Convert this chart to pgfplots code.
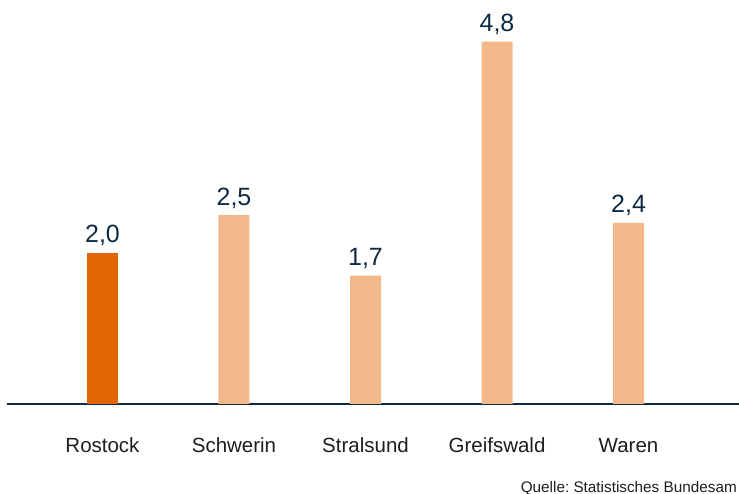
\documentclass[border=0pt]{standalone}
\usepackage{pgfplots}
\pgfplotsset{compat=1.18}
\usepackage{fontspec}
\setmainfont{Liberation Sans}
\frenchspacing
\definecolor{navy}{RGB}{15,42,68}
\definecolor{darkorange}{RGB}{227,101,6}
\definecolor{lightorange}{RGB}{243,184,137}
\definecolor{labelgray}{RGB}{30,30,30}
\begin{document}
\begin{tikzpicture}
\useasboundingbox (0,0) rectangle (739bp,494bp);
\begin{axis}[
    at={(7bp,90bp)}, anchor=south west,
    scale only axis,
    width=732bp, height=404bp,
    xmin=-0.726, xmax=4.840,
    ymin=0, ymax=5.351,
    clip=false,
    axis x line=bottom,
    axis y line=none,
    x axis line style={-, line width=2bp, navy},
    major tick length=0pt,
    xtick={0,1,2,3,4},
    xticklabels={Rostock,Schwerin,Stralsund,Greifswald,Waren},
    xticklabel style={anchor=base, yshift=-48bp, font=\fontsize{20.5bp}{24bp}\selectfont, text=labelgray},
    ybar, bar width=31bp, bar shift=0pt,
    nodes near coords,
    nodes near coords style={anchor=base, yshift=10bp, inner sep=0pt, font=\fontsize{25bp}{30bp}\selectfont, text=navy,
        /pgf/number format/.cd, use comma, fixed, fixed zerofill, precision=1, assume math mode=true},
]
\addplot[fill=darkorange, draw=none] coordinates {(0,2.0)};
\addplot[fill=lightorange, draw=none] coordinates {(1,2.5) (2,1.7) (3,4.8) (4,2.4)};
\end{axis}
\node[anchor=base east, inner sep=0pt, font=\fontsize{15.3bp}{18bp}\selectfont, text=labelgray] at (737bp,2bp) {Quelle: Statistisches Bundesam};
\end{tikzpicture}
\end{document}
